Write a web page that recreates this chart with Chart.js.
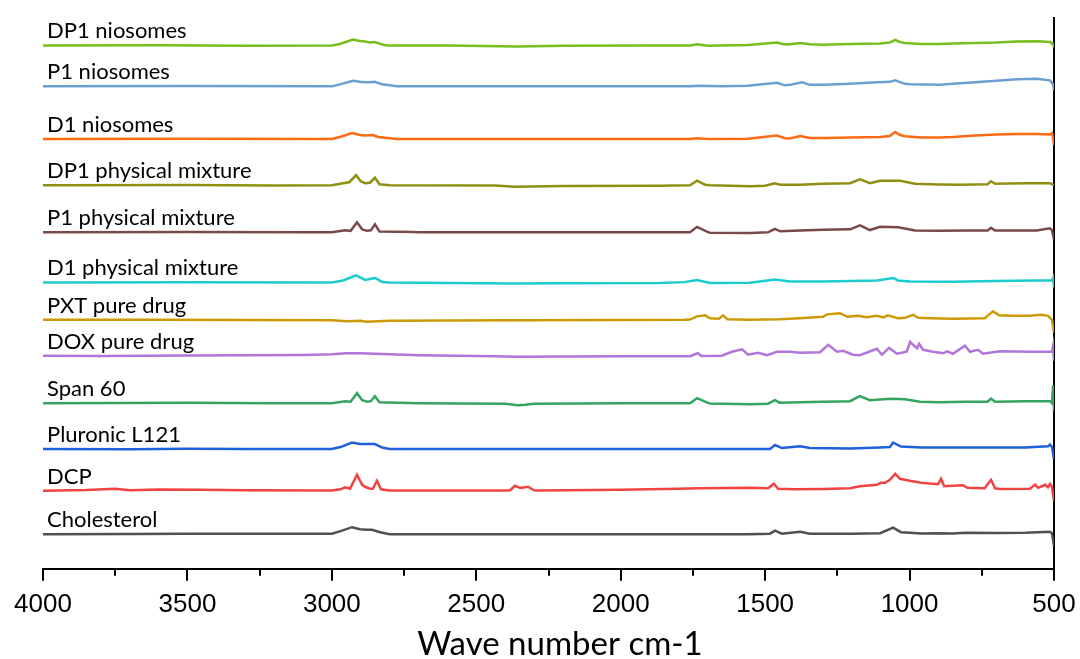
<!DOCTYPE html>
<html>
<head>
<meta charset="utf-8">
<script src="https://cdn.jsdelivr.net/npm/chart.js@4.4.1/dist/chart.umd.min.js"></script>
<style>
  html, body { margin: 0; padding: 0; background: #fff; }
  #wrap { width: 1080px; height: 659px; position: relative; }
</style>
</head>
<body>
<div id="wrap"><canvas id="ftir"></canvas></div>
<script>
// FTIR spectra, stacked. Each spectrum: [wave number, signal], signal relative to its own baseline
const seriesNames = [
  "DP1 niosomes", "P1 niosomes", "D1 niosomes", "DP1 physical mixture",
  "P1 physical mixture", "D1 physical mixture", "PXT pure drug", "DOX pure drug",
  "Span 60", "Pluronic L121", "DCP", "Cholesterol"
];
// stacking offset of each spectrum
const seriesOffsets = [524.5, 483.5, 430.7, 384.4, 337.2, 287, 249.5, 213.5, 166, 120, 78.2, 34.7];

const dp1Niosomes = [[4000,0],[3600,0.3],[3300,-0.3],[3000,0],[2972,1.5],[2927,6],[2903,4.5],[2885,4],[2868,3],[2851,3.5],[2826,1],[2809,0],[2600,0],[2356,-1],[2200,-0.3],[1900,0],[1760,0],[1736,1.2],[1700,-0.3],[1656,0],[1560,0.5],[1459,3],[1440,1.5],[1421,1],[1379,2.5],[1345,1.2],[1300,0.8],[1206,1.5],[1102,2],[1068,3],[1050,5.5],[1033,3.5],[1016,2.5],[960,1.5],[895,1.5],[850,2],[773,2.5],[700,3],[628,4],[560,4.2],[514,3.5],[503,1],[500,-2]];
const p1Niosomes = [[4000,0],[3500,0.3],[3000,0],[2972,2],[2927,5.5],[2903,4.5],[2885,4],[2868,4.2],[2851,4.5],[2826,2],[2774,0],[2400,0],[2000,0],[1760,0],[1736,0.5],[1650,0],[1560,0.5],[1459,3.5],[1431,1],[1414,1.5],[1372,4],[1345,1.5],[1293,1.5],[1206,2.5],[1113,4],[1068,4.5],[1050,6],[1016,2.5],[998,2],[895,1.5],[850,2.5],[773,4],[700,5.5],[628,7],[560,7.5],[514,6],[503,2],[500,-4]];
const d1Niosomes = [[4000,0],[3500,0.2],[3000,0],[2972,2],[2930,6],[2903,4],[2885,3.5],[2858,4],[2840,2],[2774,0],[2400,0],[1760,0],[1736,0.8],[1700,0],[1560,0.3],[1459,3.5],[1431,0.8],[1414,0.5],[1379,3],[1345,1],[1293,1],[1206,1.5],[1102,2],[1068,3],[1050,7],[1033,4],[1016,2.8],[960,1.5],[895,1.5],[850,2],[773,3.5],[700,4.5],[628,5],[560,5],[514,4.5],[507,6],[503,1],[500,-6]];
const dp1Mixture = [[4000,0],[3500,0.2],[3200,-0.2],[3000,0],[2961,2],[2940,3],[2916,10],[2900,4],[2885,2],[2868,2.5],[2851,7.5],[2835,1],[2800,0],[2435,-0.3],[2366,-1.5],[2200,-0.8],[1864,-0.5],[1760,0],[1736,4.5],[1708,0.5],[1691,0],[1552,-1],[1500,-0.5],[1466,2],[1448,0.5],[1379,0.5],[1300,1.5],[1206,2],[1172,6],[1137,2],[1102,4.5],[1033,4.5],[981,1.5],[900,0.8],[825,0.5],[730,1],[718,4],[704,1.5],[600,2],[514,2],[500,0]];
const p1Mixture = [[4000,0],[3500,0.3],[3100,0],[3000,0],[2954,2],[2935,1.5],[2913,10],[2895,3],[2878,1.5],[2865,2],[2851,8],[2835,0.8],[2719,0.3],[2700,0],[1760,0],[1736,5.5],[1700,0.5],[1691,-0.3],[1552,-0.7],[1490,0],[1466,3.5],[1448,1],[1379,1.8],[1300,2.5],[1206,3],[1172,7],[1137,2.3],[1102,5.5],[1040,5],[981,1.8],[900,1.5],[800,1.8],[730,1.8],[718,4.5],[704,1.8],[560,1.8],[514,4],[507,2],[500,-7]];
const d1Mixture = [[4000,0],[3500,0.2],[3000,0],[2961,2],[2916,7],[2885,2.5],[2868,3.5],[2851,4.5],[2826,0.5],[2800,0],[2383,-1],[2200,-0.8],[1864,-0.5],[1780,0.3],[1736,2.5],[1691,-0.5],[1552,-0.3],[1466,3],[1414,1],[1300,1],[1206,1.5],[1113,2],[1057,4.5],[1040,2],[998,1],[850,0.8],[700,1.5],[560,2],[507,2],[503,4.5],[500,-5]];
const pxtDrug = [[4000,0],[3600,0.2],[3000,-0.5],[2950,-1.5],[2900,-1],[2880,-1.8],[2800,-1],[2383,-0.5],[2300,-0.3],[1780,0],[1760,0.3],[1736,3.5],[1708,4.5],[1691,1.5],[1660,1],[1646,4.5],[1630,0.5],[1552,0],[1450,0.5],[1380,1.5],[1300,3],[1286,5.5],[1241,6.5],[1215,3],[1178,4],[1150,2.5],[1113,4],[1090,2.5],[1075,4.5],[1040,1.5],[1016,2],[988,5],[970,2],[930,1.5],[850,1],[740,1.5],[711,8.5],[690,4.5],[640,4],[583,4],[545,5],[520,4],[507,0],[500,-13]];
const doxDrug = [[4000,0],[3800,-0.2],[3500,0.3],[3100,0.8],[3000,1.5],[2950,2.5],[2900,2.5],[2800,1.5],[2700,0.5],[2435,-0.5],[2366,-1],[2000,-0.5],[1760,-0.5],[1733,2.5],[1720,-0.3],[1650,0],[1615,4],[1580,6.5],[1559,1],[1525,3],[1493,0.5],[1459,4],[1414,4],[1380,3],[1310,3.5],[1282,11],[1251,4],[1230,5],[1196,1],[1172,0.5],[1113,7],[1096,1],[1071,8],[1044,2],[1010,4],[998,14],[988,11],[974,7.5],[967,12],[953,6],[919,4],[884,2.5],[870,4.5],[850,2],[808,10],[791,4],[763,6],[746,2],[687,4.5],[583,4],[524,4],[507,4],[503,10],[500,-5]];
const span60 = [[4000,0],[3500,0.3],[3200,0],[3000,0],[2954,2],[2935,1.5],[2913,10],[2895,3],[2878,1.5],[2865,2],[2851,7],[2835,0.8],[2700,0],[2400,-0.5],[2356,-2],[2330,-1.5],[2300,-0.5],[2000,0],[1760,0],[1736,5],[1700,0.5],[1691,-0.3],[1552,-1],[1490,-0.5],[1466,3],[1450,0.5],[1379,1],[1300,1.5],[1206,2],[1172,7],[1137,3],[1068,4.5],[1016,4],[964,1.5],[900,1],[800,1.5],[730,1.5],[718,4.5],[704,1.5],[600,2],[514,2],[507,0],[503,18],[500,-8]];
const pluronicL121 = [[4000,0],[3700,-0.3],[3500,0.3],[3300,0],[3000,0],[2970,2],[2930,6.5],[2903,5],[2868,5],[2851,5],[2826,1.5],[2800,0],[2400,0],[2000,0],[1560,0],[1483,0],[1466,4],[1442,1],[1379,2.7],[1345,1],[1206,0.5],[1102,1.5],[1068,2],[1057,6.5],[1030,2.5],[960,1.5],[850,1.5],[730,1.5],[600,1.5],[521,2.7],[514,4.5],[507,2],[500,-10]];
const dcp = [[4000,0],[3850,0.8],[3750,2],[3700,0.5],[3600,1.2],[3456,1],[3300,0.5],[3000,0.3],[2970,1.5],[2954,3.5],[2937,2],[2913,16],[2895,6],[2885,4],[2868,2],[2858,2],[2844,10],[2830,1.5],[2800,0.3],[2400,0.3],[2383,0.5],[2366,5],[2350,3],[2342,3],[2321,4],[2300,0.5],[2286,0.3],[2000,1],[1900,1.5],[1800,2],[1725,2.5],[1552,3],[1490,2.5],[1470,7],[1455,2],[1400,1.5],[1300,1.8],[1206,2.5],[1172,4.5],[1113,6],[1100,8],[1085,8],[1068,11],[1050,17],[1033,12],[1000,10],[960,8],[902,6.5],[891,12],[880,4.5],[815,5.5],[800,3],[740,2.5],[718,11],[704,2.5],[687,1.8],[583,2],[566,6],[555,3],[531,6],[521,3.5],[514,7],[507,4],[500,-10]];
const cholesterol = [[4000,0],[3700,0.2],[3500,0.5],[3300,0.5],[3000,0.5],[2970,3],[2930,7],[2903,5],[2878,4.5],[2861,4.5],[2833,2],[2800,0],[2400,0],[2000,0],[1760,0],[1560,0],[1483,0.5],[1466,3.5],[1442,0.5],[1379,2.5],[1345,0.5],[1206,0.5],[1102,1],[1057,6.5],[1030,2],[998,1.5],[960,0.8],[900,1],[850,0.8],[808,1.5],[700,1.2],[600,1.5],[514,2.5],[507,1],[500,-12]];

const spectra = [dp1Niosomes, p1Niosomes, d1Niosomes, dp1Mixture, p1Mixture, d1Mixture,
  pxtDrug, doxDrug, span60, pluronicL121, dcp, cholesterol];

const xTicks = [4000, 3500, 3000, 2500, 2000, 1500, 1000, 500];
const xMinorTicks = [3750, 3250, 2750, 2250, 1750, 1250, 750];
const xTitle = "Wave number cm-1";

const colors = ["#78bd1e", "#6b9fd4", "#ff6a14", "#8f8f12", "#7a4a4a", "#1ccccc",
  "#cc9a08", "#b375da", "#35a460", "#1f60dc", "#f24242", "#505050"];

// series names above each trace, minor ticks and the axis title
const overlayPlugin = {
  id: "overlay",
  afterDatasetsDraw(chart) {
    const { ctx, chartArea, scales } = chart;
    ctx.save();
    ctx.fillStyle = "#000";
    ctx.font = "22px Lato";
    ctx.textBaseline = "alphabetic";
    ctx.textAlign = "left";
    seriesNames.forEach((name, i) => {
      const y = scales.y.getPixelForValue(seriesOffsets[i]);
      ctx.fillText(name, chartArea.left + 4, y - 7);
    });

    ctx.strokeStyle = "#000";
    ctx.lineWidth = 2;
    xMinorTicks.forEach((v) => {
      const x = Math.round(scales.x.getPixelForValue(v));
      ctx.beginPath();
      ctx.moveTo(x, chartArea.bottom);
      ctx.lineTo(x, chartArea.bottom + 7);
      ctx.stroke();
    });

    ctx.font = "33px Lato";
    ctx.textAlign = "center";
    ctx.fillText(xTitle, chartArea.left + 517, chart.height - 4);
    ctx.restore();
  },
};

new Chart(document.getElementById("ftir"), {
  type: "line",
  data: {
    datasets: spectra.map((s, i) => ({
      label: seriesNames[i],
      data: s.map((p) => ({ x: p[0], y: seriesOffsets[i] + p[1] })),
      borderColor: colors[i],
      borderWidth: 2.5,
      pointRadius: 0,
      tension: 0,
      fill: false,
    })),
  },
  options: {
    responsive: true,
    maintainAspectRatio: false,
    animation: false,
    layout: { padding: { left: 43, right: 26, top: 18, bottom: 31 } },
    plugins: {
      legend: { display: false },
      tooltip: { enabled: false },
    },
    scales: {
      x: {
        type: "linear",
        reverse: true,
        min: 500,
        max: 4000,
        afterBuildTicks: (scale) => {
          scale.ticks = xTicks.map((v) => ({ value: v }));
        },
        afterFit: (scale) => {
          // edge labels fit inside the layout padding already
          scale.paddingLeft = 0;
          scale.paddingRight = 0;
        },
        ticks: {
          autoSkip: false,
          maxRotation: 0,
          padding: 8,
          color: "#000",
          font: { family: "Liberation Sans", size: 26 },
          callback: (value) => String(value),
        },
        grid: {
          display: true,
          drawOnChartArea: false,
          drawTicks: true,
          tickLength: 12,
          color: "#000",
          lineWidth: 2,
        },
        border: { display: true, color: "#000", width: 2 },
      },
      y: {
        type: "linear",
        position: "right",
        min: 0,
        max: 552,
        ticks: { display: false },
        grid: { display: false, drawTicks: false },
        border: { display: true, color: "#000", width: 2 },
      },
    },
  },
  plugins: [overlayPlugin],
});
</script>
</body>
</html>
